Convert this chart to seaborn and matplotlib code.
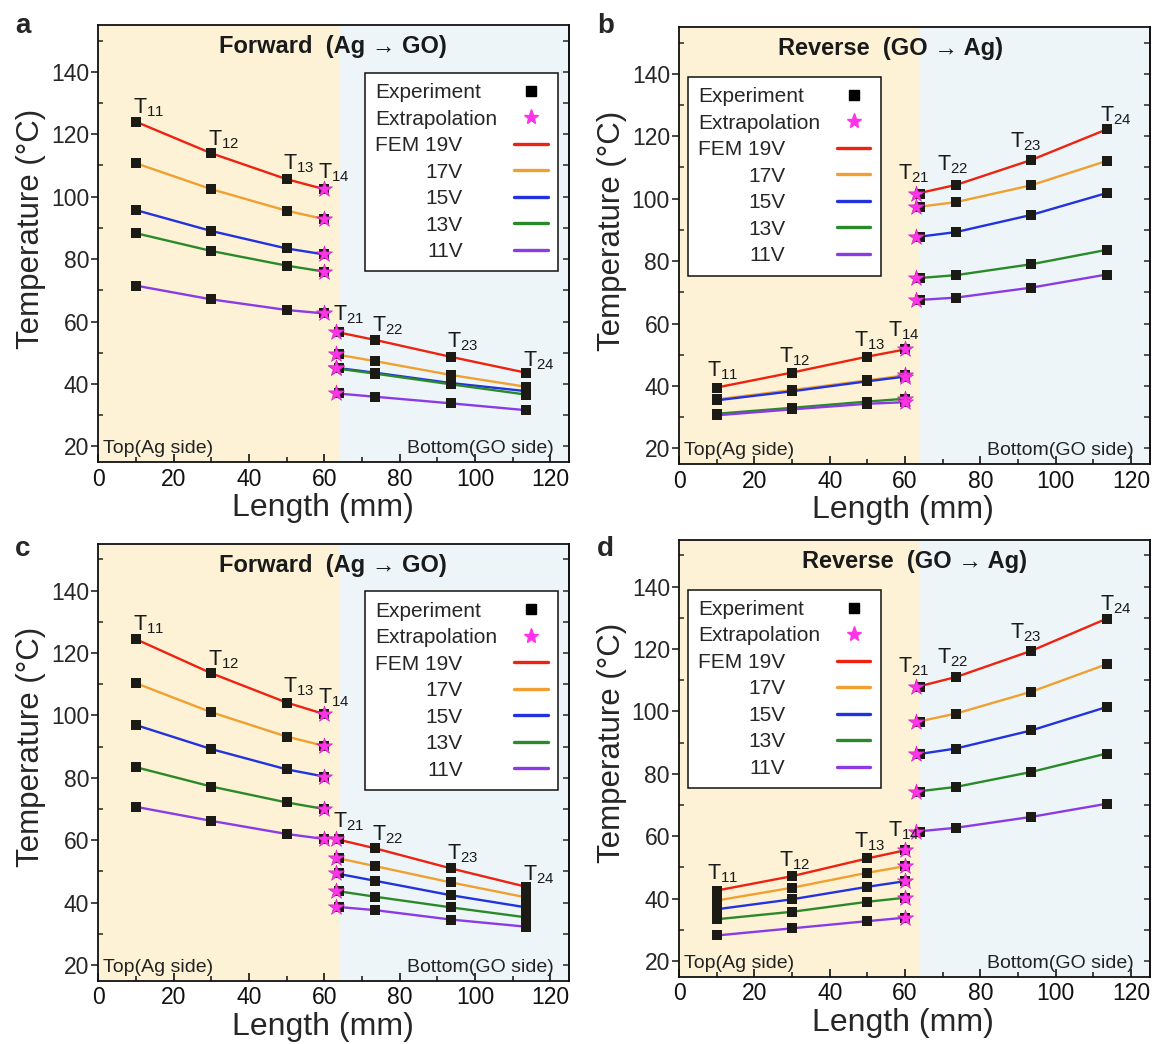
import numpy as np
import pandas as pd
import seaborn as sns
import matplotlib.pyplot as plt
from matplotlib.lines import Line2D
from matplotlib.ticker import MultipleLocator

volts = ['19V', '17V', '15V', '13V', '11V']
colors = ['#EE2211', '#F0A030', '#2233DD', '#2A8A2A', '#8A3BE6']
ag_x = [10, 30, 50, 60]
go_x = [64, 73.5, 93.5, 113.5]
fem_go_x = [63, 73.5, 93.5, 113.5]
star_x = [60, 63]
t_names = ['11', '12', '13', '14', '21', '22', '23', '24']

# a : forward, first run
a_ag = [[124.0, 113.9, 105.6, 102.4],
        [110.7, 102.4, 95.5, 92.8],
        [95.7, 89.0, 83.4, 81.5],
        [88.3, 82.6, 77.9, 76.0],
        [71.5, 67.1, 63.7, 62.6]]
a_go = [[56.7, 54.1, 48.7, 43.6],
        [49.5, 47.3, 42.9, 39.1],
        [45.2, 43.6, 40.3, 37.7],
        [45.0, 43.3, 39.9, 36.6],
        [37.0, 35.9, 33.8, 31.6]]
# b : reverse, first run
b_ag = [[39.5, 44.3, 49.4, 51.7],
        [35.7, 38.7, 41.8, 43.4],
        [35.4, 38.3, 41.5, 43.0],
        [31.1, 33.0, 35.0, 35.9],
        [30.6, 32.5, 34.3, 34.8]]
b_go = [[101.6, 104.4, 112.4, 122.2],
        [97.3, 98.9, 104.3, 112.1],
        [87.7, 89.3, 94.8, 101.8],
        [74.5, 75.5, 79.0, 83.6],
        [67.5, 68.3, 71.5, 75.7]]
# c : forward, second run
c_ag = [[124.4, 113.5, 104.1, 100.4],
        [110.3, 101.0, 93.2, 90.2],
        [96.9, 89.2, 82.7, 80.4],
        [83.4, 77.2, 72.1, 70.0],
        [70.7, 66.2, 62.0, 60.4]]
c_go = [[60.4, 57.4, 51.0, 45.1],
        [54.4, 51.7, 46.5, 41.7],
        [49.4, 47.0, 42.4, 38.5],
        [43.8, 41.9, 38.5, 35.3],
        [38.7, 37.6, 34.6, 32.3]]
# d : reverse, second run
d_ag = [[42.6, 47.2, 52.9, 55.5],
        [39.4, 43.5, 48.3, 50.4],
        [36.6, 39.8, 43.8, 45.6],
        [33.4, 35.8, 39.0, 40.3],
        [28.2, 30.5, 32.8, 33.9]]
d_go = [[107.8, 111.0, 119.4, 129.7],
        [96.6, 99.3, 106.3, 115.1],
        [86.2, 88.1, 93.9, 101.4],
        [74.3, 75.8, 80.6, 86.5],
        [61.5, 62.7, 66.2, 70.4]]

# label offsets for the T_ij tags (x shift, y above red curve)
fwd_dx = [-0.8, -0.8, -0.9, -1.6, -0.6, -0.9, -0.9, -0.7]
fwd_dy = [2.7, 2.6, 3.2, 3.5, 3.8, 2.6, 2.9, 2.0]
rev_dx = [-2.7, -3.5, -3.6, -4.6, -4.9, -5.1, -5.7, -1.9]
rev_dy = [3.7, 3.2, 3.4, 4.3, 4.6, 4.5, 4.0, 2.7]

sns.set_theme(style='ticks')
plt.rcParams['font.family'] = ['Liberation Sans', 'DejaVu Sans']
plt.rcParams['mathtext.fontset'] = 'custom'
plt.rcParams['mathtext.rm'] = 'Liberation Sans'
plt.rcParams['mathtext.it'] = 'Liberation Sans'
plt.rcParams['axes.linewidth'] = 1.3

W, H = 1153, 1044
fig = plt.figure(figsize=(W / 100, H / 100), dpi=100)

pal = dict(zip(volts, colors))
panels = [
    ('a', a_ag, a_go, 'Forward  (Ag \u2192 GO)', 62.3, (98.3, 462), 'fwd'),
    ('b', b_ag, b_go, 'Reverse  (GO \u2192 Ag)', 56.0, (679, 464), 'rev'),
    ('c', c_ag, c_go, 'Forward  (Ag \u2192 GO)', 62.3, (98.3, 980.7), 'fwd'),
    ('d', d_ag, d_go, 'Reverse  (GO \u2192 Ag)', 62.5, (679, 976.7), 'rev'),
]
legends = []

for letter, ag, go, title, tx, (px, py), kind in panels:
    ax = fig.add_axes([px / W, 1 - py / H, 471 / W, 437 / H])
    ax.set_xlim(0, 125)
    ax.set_ylim(15, 155)
    ax.axvspan(0, 64, color='#FDF2D6', lw=0, zorder=0)
    ax.axvspan(64, 125, color='#EEF5F8', lw=0, zorder=0)

    rows, sq, st = [], [], []
    for v, ya, yg in zip(volts, ag, go):
        for x, y in zip(ag_x, ya):
            rows.append((x, y, v, 'ag'))
            sq.append((x, y))
        for x, y in zip(fem_go_x, yg):
            rows.append((x, y, v, 'go'))
        for x, y in zip(go_x, yg):
            sq.append((x, y))
        st.append((star_x[0], ya[-1]))
        st.append((star_x[1], yg[0]))
    fem = pd.DataFrame(rows, columns=['x', 'T', 'volt', 'side'])
    sq = pd.DataFrame(sq, columns=['x', 'T'])
    st = pd.DataFrame(st, columns=['x', 'T'])

    sns.lineplot(data=fem, x='x', y='T', hue='volt', units='side', estimator=None,
                 palette=pal, hue_order=volts, legend=False, lw=1.7, sort=False,
                 ax=ax, zorder=2)
    sns.scatterplot(data=sq, x='x', y='T', marker='s', color='#1C1A14', s=60,
                    linewidth=0, ax=ax, zorder=3)
    sns.scatterplot(data=st, x='x', y='T', marker='*', color='#FF33E8', s=150,
                    edgecolor='#C020B0', linewidth=0.4, ax=ax, zorder=4)

    # T labels above the top (19V) curve
    top = ag[0] + go[0]
    xs = ag_x[:3] + star_x + go_x[1:]
    dx = fwd_dx if kind == 'fwd' else rev_dx
    dy = fwd_dy if kind == 'fwd' else rev_dy
    for name, x, y, ox, oy in zip(t_names, xs, top, dx, dy):
        ax.text(x + ox, y + oy, 'T$_{' + name + '}$', fontsize=15.5,
                ha='left', va='baseline', color='#1a1a1a', zorder=5)

    ax.text(tx, 148, title, fontsize=17, fontweight='bold', ha='center',
            va='center', color='#1a1a1a', family=['Liberation Sans', 'DejaVu Sans'])
    ax.text(1.3, 17.8, 'Top(Ag side)', fontsize=14, ha='left', va='baseline',
            color='#222222')
    ax.text(120.8, 17.8, 'Bottom(GO side)', fontsize=14, ha='right', va='baseline',
            color='#222222')

    ax.xaxis.set_major_locator(MultipleLocator(20))
    ax.xaxis.set_minor_locator(MultipleLocator(10))
    ax.yaxis.set_minor_locator(MultipleLocator(10))
    ax.set_yticks(np.arange(20, 141, 20))
    ax.tick_params(axis='x', which='both', direction='in', top=False, bottom=True,
                   labelsize=16.5, pad=4, colors='#111111')
    ax.tick_params(axis='x', which='major', length=6, width=1.2)
    ax.tick_params(axis='x', which='minor', length=3.5, width=1.1)
    ax.tick_params(axis='y', which='major', direction='out', length=5, width=1.2,
                   left=True, right=False, labelsize=16.5, pad=1.5)
    ax.tick_params(axis='y', which='minor', direction='in', length=3.5, width=1.1,
                   left=True, right=False)
    sec = ax.secondary_yaxis('right')
    sec.yaxis.set_major_locator(MultipleLocator(10))
    sec.tick_params(which='both', direction='in', length=4, width=1.1,
                    labelright=False)
    sec.spines['right'].set_linewidth(1.3)
    for sp in ax.spines.values():
        sp.set_visible(True)
        sp.set_color('#111111')

    ax.set_xlabel('Length (mm)', fontsize=23)
    ax.set_ylabel('Temperature (\u00b0C)', fontsize=22.5)
    ax.xaxis.set_label_coords(0.476, -0.072)
    ax.yaxis.set_label_coords(-0.111, 0.534)

    handles = [Line2D([], [], ls='none', marker='s', color='black', markersize=7),
               Line2D([], [], ls='none', marker='*', color='#FF33E8', markersize=11)]
    labels = ['Experiment', 'Extrapolation']
    for i, (v, c) in enumerate(zip(volts, colors)):
        handles.append(Line2D([], [], color=c, lw=2.4))
        labels.append(('FEM ' if i == 0 else '') + v)
    if kind == 'fwd':
        loc, anchor = 'upper right', (0.976, 0.891)
    else:
        loc, anchor = 'upper left', (0.019, 0.886)
    leg = ax.legend(handles, labels, loc=loc, bbox_to_anchor=anchor, fontsize=15,
                    markerfirst=False, frameon=True, fancybox=False, framealpha=1,
                    edgecolor='#111111', handlelength=1.6, handletextpad=0.8,
                    labelspacing=0.36, borderpad=0.5, borderaxespad=0)
    leg.get_frame().set_linewidth(1.1)
    leg.set_zorder(6)
    legends.append(leg)

    fig.text((15 if letter in 'ac' else 597) / W,
             1 - (33 if letter in 'ab' else 556) / H, letter,
             fontsize=20, fontweight='bold', ha='left', va='baseline')

# legend text: left aligned block, voltages right aligned under "FEM 19V"
fig.canvas.draw()
renderer = fig.canvas.get_renderer()
for leg in legends:
    texts = leg.get_texts()
    bbs = [t.get_window_extent(renderer) for t in texts]
    left0 = min(b.x0 for b in bbs)
    right_fem = left0 + bbs[2].width
    for i, (t, b) in enumerate(zip(texts, bbs)):
        shift = (left0 - b.x0) if i < 3 else (right_fem - b.x1)
        t.set_x(t.get_position()[0] + shift)

fig.savefig('out.png', dpi=100)
